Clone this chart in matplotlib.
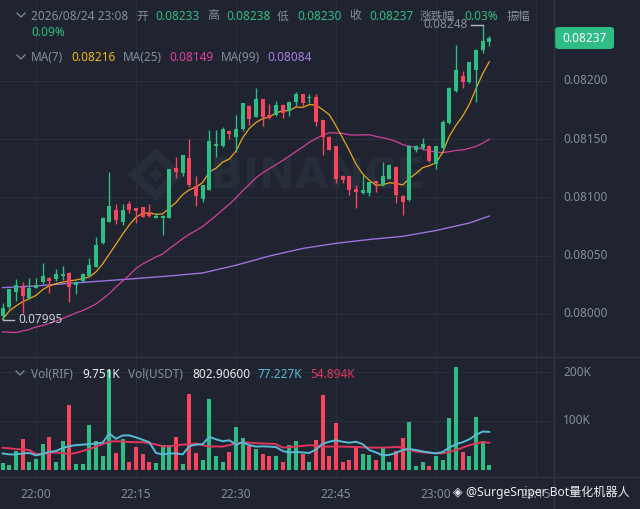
import numpy as np
import pandas as pd
import matplotlib
matplotlib.use("Agg")
import matplotlib.pyplot as plt
from matplotlib.patches import FancyBboxPatch, Polygon
from matplotlib.lines import Line2D

plt.rcParams['font.family'] = ['Noto Sans', 'Noto Sans CJK SC', 'DejaVu Sans']

# ---- data: RIF/USDT 1m candles, minutes after 22:00 ----
minutes = np.arange(-5, 69)
opens = [0.07998, 0.08006, 0.08019, 0.08023, 0.08014, 0.08022, 0.08027, 0.08031, 0.08030, 0.08033,
         0.08035, 0.08025, 0.08028, 0.08033, 0.08040, 0.08061, 0.08079, 0.08089, 0.08079, 0.08094,
         0.08091, 0.08092, 0.08087, 0.08082, 0.08082, 0.08082, 0.08125, 0.08121, 0.08134, 0.08110,
         0.08099, 0.08106, 0.08144, 0.08144, 0.08157, 0.08152, 0.08159, 0.08178, 0.08169, 0.08184,
         0.08171, 0.08171, 0.08179, 0.08174, 0.08182, 0.08189, 0.08185, 0.08186, 0.08166, 0.08152,
         0.08144, 0.08118, 0.08118, 0.08107, 0.08104, 0.08104, 0.08114, 0.08111, 0.08116, 0.08126,
         0.08101, 0.08098, 0.08141, 0.08142, 0.08144, 0.08129, 0.08142, 0.08164, 0.08191, 0.08204,
         0.08199, 0.08209, 0.08226, 0.08233]
highs = [0.08009, 0.08021, 0.08030, 0.08027, 0.08031, 0.08031, 0.08044, 0.08032, 0.08039, 0.08041,
         0.08036, 0.08028, 0.08035, 0.08048, 0.08066, 0.08083, 0.08122, 0.08094, 0.08094, 0.08097,
         0.08091, 0.08092, 0.08094, 0.08087, 0.08085, 0.08124, 0.08135, 0.08136, 0.08150, 0.08118,
         0.08111, 0.08158, 0.08158, 0.08160, 0.08158, 0.08171, 0.08181, 0.08179, 0.08194, 0.08184,
         0.08180, 0.08183, 0.08180, 0.08183, 0.08190, 0.08189, 0.08189, 0.08189, 0.08166, 0.08153,
         0.08144, 0.08119, 0.08118, 0.08111, 0.08119, 0.08113, 0.08114, 0.08130, 0.08129, 0.08127,
         0.08102, 0.08145, 0.08145, 0.08151, 0.08145, 0.08144, 0.08166, 0.08195, 0.08231, 0.08208,
         0.08216, 0.08227, 0.08248, 0.08238]
lows = [0.07995, 0.08004, 0.08011, 0.08001, 0.08013, 0.08022, 0.08026, 0.08018, 0.08028, 0.08029,
        0.08010, 0.08017, 0.08027, 0.08033, 0.08040, 0.08060, 0.08079, 0.08077, 0.08076, 0.08087,
        0.08078, 0.08083, 0.08083, 0.08082, 0.08068, 0.08082, 0.08117, 0.08118, 0.08109, 0.08093,
        0.08096, 0.08106, 0.08135, 0.08143, 0.08150, 0.08139, 0.08157, 0.08162, 0.08169, 0.08161,
        0.08167, 0.08170, 0.08168, 0.08170, 0.08178, 0.08178, 0.08181, 0.08161, 0.08136, 0.08141,
        0.08112, 0.08112, 0.08102, 0.08091, 0.08103, 0.08101, 0.08105, 0.08110, 0.08116, 0.08095,
        0.08085, 0.08097, 0.08139, 0.08141, 0.08130, 0.08124, 0.08141, 0.08163, 0.08190, 0.08194,
        0.08198, 0.08182, 0.08224, 0.08230]
closes = [0.08005, 0.08021, 0.08025, 0.08015, 0.08022, 0.08025, 0.08033, 0.08028, 0.08034, 0.08034,
          0.08023, 0.08027, 0.08034, 0.08042, 0.08059, 0.08082, 0.08093, 0.08081, 0.08089, 0.08089,
          0.08088, 0.08083, 0.08084, 0.08084, 0.08084, 0.08124, 0.08122, 0.08136, 0.08111, 0.08101,
          0.08111, 0.08148, 0.08146, 0.08159, 0.08154, 0.08159, 0.08181, 0.08167, 0.08184, 0.08169,
          0.08168, 0.08179, 0.08172, 0.08182, 0.08189, 0.08181, 0.08186, 0.08165, 0.08152, 0.08141,
          0.08116, 0.08115, 0.08106, 0.08105, 0.08106, 0.08113, 0.08112, 0.08118, 0.08128, 0.08102,
          0.08096, 0.08144, 0.08144, 0.08146, 0.08131, 0.08144, 0.08165, 0.08194, 0.08209, 0.08199,
          0.08216, 0.08226, 0.08234, 0.08237]
volumes_k = [13.0, 9.6, 38.3, 62.9, 15.0, 21.2, 52.0, 67.7, 14.4, 57.5,
             132.7, 10.9, 10.9, 91.7, 58.8, 26.7, 205.0, 34.9, 62.9, 15.0,
             47.2, 31.5, 14.4, 13.0, 50.6, 50.6, 67.7, 10.9, 154.6, 34.9,
             18.5, 144.3, 28.7, 16.4, 35.6, 86.9, 64.3, 48.6, 41.7, 32.8,
             28.0, 28.0, 15.0, 50.6, 57.5, 31.5, 14.4, 60.9, 153.2, 28.0,
             95.1, 14.4, 19.8, 48.6, 32.1, 30.1, 18.5, 43.8, 16.4, 38.3,
             64.3, 97.1, 7.5, 15.0, 7.5, 28.7, 19.8, 105.3, 210.0, 35.6,
             26.7, 108.8, 57.5, 9.751]

# moving averages whose start needs candles left of the window
ma7_head = [0.079955, 0.080026, 0.080069, 0.080105, 0.080131, 0.080159]
ma25_head = [0.079847, 0.079843, 0.079841, 0.079854, 0.079867, 0.079889, 0.079901, 0.079919,
             0.079940, 0.079961, 0.079985, 0.080009, 0.080030, 0.080056, 0.080086, 0.080129,
             0.080176, 0.080232, 0.080283, 0.080334, 0.080390, 0.080429, 0.080459, 0.080489]
ma99_minutes = [-5, 0, 5, 10, 15, 20, 25, 30, 35, 40, 45, 50, 55, 60, 65, 68]
ma99_values = [0.080226, 0.080240, 0.080263, 0.080283, 0.080304, 0.080326, 0.080352, 0.080418,
               0.080497, 0.080562, 0.080606, 0.080639, 0.080666, 0.080716, 0.080780, 0.080840]
vol_ma5_k = [33, 31, 31, 33, 34, 29, 32, 36, 38, 44, 48, 50, 51, 52, 53.5, 55, 74, 63, 70, 70,
             66, 61, 56, 34, 31, 33, 33, 31, 48, 51, 52, 67, 62, 58, 60, 51, 56, 50, 47, 47.5,
             47, 46, 38, 35, 36, 35, 34, 41, 53, 57, 60, 57, 55, 57, 52, 40, 35, 29, 30, 34,
             40, 42, 40, 37, 35, 33, 36, 45, 52, 56, 62, 71, 78, 77.227]
vol_ma10_k = [44.5, 43.5, 42, 41, 40, 31.5, 32.5, 34, 35, 34, 31.5, 34, 38, 42, 47, 52, 57, 58,
              57.5, 56.5, 56, 56, 54, 51.5, 47.5, 47.5, 50, 51, 52, 53.5, 50, 47, 47.5, 47, 50,
              53.7, 55.5, 55, 54, 53.5, 53, 52, 45, 46, 47, 48.5, 50, 49, 47, 47, 47, 47, 46.5,
              46, 45.5, 45, 45, 44.8, 45.5, 46.5, 45, 40, 37, 35.3, 34, 33.5, 33.2, 36, 40, 45,
              50, 53.7, 56, 54.894]
price_ticks = [0.08000, 0.08050, 0.08100, 0.08150, 0.08200]
time_ticks = [0, 15, 30, 45, 60, 75]
time_labels = ['22:00', '22:15', '22:30', '22:45', '23:00', '23:15']

BG = '#1f2430'
GRID = '#2a303b'
SEP = '#2f3541'
TXT = '#848e9c'
UP = '#2ebd85'
DOWN = '#f6465d'
WM = '#272d39'
W, H = 640, 509
FS = 8.5


def fx(px):
    return px / W


def fy(py):
    return 1 - py / H


opens = np.array(opens)
closes = np.array(closes)
highs = np.array(highs)
lows = np.array(lows)
ma7 = pd.Series(closes).rolling(7).mean().to_numpy()
ma7[:len(ma7_head)] = ma7_head
ma25 = pd.Series(closes).rolling(25).mean().to_numpy()
ma25[:len(ma25_head)] = ma25_head
colors = [UP if c >= o else DOWN for o, c in zip(opens, closes)]

fig = plt.figure(figsize=(6.4, 5.09), dpi=100, facecolor=BG)
xlim = (-5.4, 77.7)

ax = fig.add_axes([0, fy(357), fx(554), 357 / H])
ax.set_facecolor(BG)
ax.set_xlim(*xlim)
ax.set_ylim(0.079631, 0.082693)
ax.axis('off')
for p in price_ticks:
    ax.axhline(p, color=GRID, lw=0.8, zorder=0)
for t in time_ticks:
    ax.axvline(t, color=GRID, lw=0.8, zorder=0)

# faint watermark
ax.text(42.3, 0.081179, 'BINANCE', fontsize=31, color=WM, ha='center', va='center',
        family='DejaVu Sans', fontweight='bold', zorder=0.5)
cx, cy = 18.0, 0.081195
dx, dy = 4.3, 0.00023
ax.add_patch(Polygon([[cx - dx, cy], [cx, cy + dy], [cx + dx, cy], [cx, cy - dy]],
                     closed=True, fc=WM, ec='none', zorder=0.5))
ax.add_patch(Polygon([[cx - dx * 0.55, cy], [cx, cy + dy * 0.55], [cx + dx * 0.55, cy], [cx, cy - dy * 0.55]],
                     closed=True, fc=BG, ec='none', zorder=0.6))
ax.add_patch(Polygon([[cx - dx * 0.25, cy], [cx, cy + dy * 0.25], [cx + dx * 0.25, cy], [cx, cy - dy * 0.25]],
                     closed=True, fc=WM, ec='none', zorder=0.6))

ax.plot(ma99_minutes, ma99_values, color='#9b72e0', lw=1.0, zorder=2)
ax.plot(minutes, ma25, color='#d0409c', lw=0.9, zorder=2)
ax.plot(minutes, ma7, color='#e8a71a', lw=0.9, zorder=2)

body_w = 0.62
min_body = 0.0000095
for t, o, h, l, c, col in zip(minutes, opens, highs, lows, closes, colors):
    ax.vlines(t, l, h, color=col, lw=1.0, zorder=3)
    ax.bar(t, max(abs(c - o), min_body), bottom=min(o, c), width=body_w, color=col,
           edgecolor='none', zorder=4)

# high / low markers
i_hi = int(np.argmax(highs))
ax.plot([minutes[i_hi] - 1.8, minutes[i_hi]], [highs[i_hi]] * 2, color='#b7bdc6', lw=1.0, zorder=5)
ax.text(minutes[i_hi] - 2.3, highs[i_hi], f'{highs[i_hi]:.5f}', color=TXT, fontsize=FS,
        ha='right', va='center', zorder=5)
i_lo = int(np.argmin(lows))
ax.plot([minutes[i_lo], minutes[i_lo] + 1.7], [lows[i_lo]] * 2, color='#b7bdc6', lw=1.0, zorder=5)
ax.text(minutes[i_lo] + 2.3, lows[i_lo], f'{lows[i_lo]:.5f}', color='#c9ced6', fontsize=FS,
        ha='left', va='center', zorder=5)

# volume pane
vax = fig.add_axes([0, fy(477), fx(554), 120 / H])
vax.set_facecolor(BG)
vax.set_xlim(*xlim)
vax.set_ylim(-15.4, 231)
vax.axis('off')
for v in [100, 200]:
    vax.axhline(v, color=GRID, lw=0.8, zorder=0)
for t in time_ticks:
    vax.axvline(t, color=GRID, lw=0.8, zorder=0)
vax.bar(minutes, volumes_k, width=body_w, color=colors, edgecolor='none', zorder=2)
vax.plot(minutes, vol_ma10_k, color='#e0355d', lw=1.4, zorder=3)
vax.plot(minutes, vol_ma5_k, color='#56bcd6', lw=1.4, zorder=3)

# separators
fig.add_artist(Line2D([0, 1], [fy(357), fy(357)], color=SEP, lw=1.0))
fig.add_artist(Line2D([0, 1], [fy(477), fy(477)], color=SEP, lw=1.0))
fig.add_artist(Line2D([fx(554), fx(554)], [0, 1], color=SEP, lw=1.0))

# right axis labels
to_fig = fig.transFigure.inverted()
for p in price_ticks:
    fig.text(fx(563), to_fig.transform(ax.transData.transform((0, p)))[1],
             f'{p:.5f}', color=TXT, fontsize=FS, ha='left', va='center')
for v in [100, 200]:
    fig.text(fx(563), to_fig.transform(vax.transData.transform((0, v)))[1],
             f'{v}K', color=TXT, fontsize=FS, ha='left', va='center')

# last price tag
fig.add_artist(FancyBboxPatch((fx(555), fy(49)), fx(59), 22 / H,
                              boxstyle='round,pad=0,rounding_size=0.006',
                              transform=fig.transFigure, fc=UP, ec='none'))
fig.text(fx(584.5), fy(38), f'{closes[-1]:.5f}', color='white', fontsize=FS, ha='center', va='center')

# time axis
for t, lab in zip(time_ticks, time_labels):
    x = to_fig.transform(ax.transData.transform((t, 0)))[0]
    fig.text(x, fy(494), lab, color=TXT, fontsize=FS, ha='center', va='center')


def chevron(x, y):
    fig.add_artist(Line2D([fx(x - 4), fx(x), fx(x + 4)], [fy(y - 2), fy(y + 2), fy(y - 2)],
                          color=TXT, lw=0.9))


def row(y, items):
    for s, x, col in items:
        fig.text(fx(x), fy(y), s, color=col, fontsize=FS, ha='left', va='center')


chevron(21, 15)
row(16, [('2026/08/24 23:08', 31, TXT), ('开', 136, TXT), ('0.08233', 155, UP),
         ('高', 207, TXT), ('0.08238', 226, UP), ('低', 277, TXT), ('0.08230', 297, UP),
         ('收', 349, TXT), ('0.08237', 369, UP), ('涨跌幅', 420, TXT), ('0.03%', 464, UP),
         ('振幅', 507, TXT)])
row(32, [('0.09%', 31, UP)])
chevron(21, 57)
row(58, [('MA(7)', 31, TXT), ('0.08216', 71, '#f0b90b'), ('MA(25)', 123, TXT),
         ('0.08149', 169, '#e040a0'), ('MA(99)', 221, TXT), ('0.08084', 267, '#a67ee8')])
chevron(20, 373)
row(374, [('Vol(RIF)', 31, TXT), ('9.751K', 82, '#eaecef'), ('Vol(USDT)', 128, TXT),
          ('802.90600', 192, '#eaecef'), ('77.227K', 258, '#56bcd6'), ('54.894K', 310, '#e0355d')])

# bottom watermark
fig.text(fx(453), fy(492), '◈', color='#eaecef', fontsize=9, ha='left', va='center',
         family=['DejaVu Sans'])
fig.text(fx(466), fy(492), '@SurgeSniper Bot量化机器人', color='#eaecef', fontsize=8.7,
         ha='left', va='center')

fig.savefig('out.png', dpi=100, facecolor=BG)
